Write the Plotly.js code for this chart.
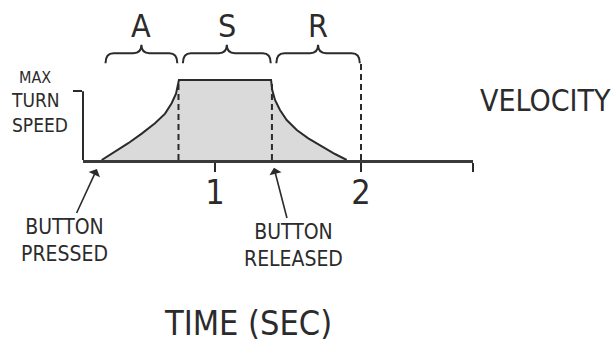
<!DOCTYPE html>
<html>
<head>
<meta charset="utf-8">
<script src="https://cdn.plot.ly/plotly-3.0.1.min.js"></script>
<style>
  html, body { margin: 0; padding: 0; background: white; }
  #chart { width: 615px; height: 345px; }
</style>
</head>
<body>
<div id="chart"></div>
<script>
// ASR envelope: velocity (fraction of max turn speed) vs time in seconds

const phaseTimes  = [0.22, 0.75, 1.39, 2.0];   // pressed, attack end, released, release window end
const phaseLabels = ["A", "S", "R"];

const attackT = [0.224, 0.315, 0.406, 0.498, 0.589, 0.658, 0.703, 0.733, 0.745, 0.753];
const attackV = [0, 0.10, 0.21, 0.33, 0.46, 0.58, 0.71, 0.83, 0.96, 1.0];

const releaseT = [1.384, 1.392, 1.411, 1.445, 1.491, 1.560, 1.639, 1.731, 1.822, 1.902];
const releaseV = [1.0, 0.875, 0.75, 0.625, 0.5, 0.375, 0.27, 0.17, 0.075, 0];

const maxTick   = 0.86;
const xTickVals = [1, 2, 2.765];
const xTickText = ["1", "2", ""];

const FONT = "'DejaVu Sans Condensed', 'Liberation Sans Narrow', sans-serif";
const INK = "#2b2b2b";

// plot area geometry (pixels on the 615x345 page)
const M = { l: 83, r: 142, t: 0, b: 185 };
const W = 615 - M.l - M.r, H = 345 - M.t - M.b;
const px = (x) => (x - M.l) / W;
const py = (y) => (345 - M.b - y) / H;

const envT = [...attackT, ...releaseT];
const envV = [...attackV, ...releaseV];

const dashed = (x, top) => ({
  x: [x, x], y: [0, top], type: "scatter", mode: "lines",
  line: { color: INK, width: 2, dash: "6px,4px" }, hoverinfo: "skip" });

const traces = [
  { x: envT, y: envV, type: "scatter", mode: "lines", fill: "tozeroy",
    fillcolor: "#dadada", line: { color: INK, width: 2 }, hoverinfo: "skip" },
  dashed(phaseTimes[1], 1),
  dashed(phaseTimes[2], 1),
  dashed(phaseTimes[3], 1.21),
];

// curly braces over each phase
function bracePath(x0, x1) {
  const yEnd = 1.21, yLine = 1.335, yTip = 1.44, r = 0.055;
  const xm = (x0 + x1) / 2;
  return `M ${x0},${yEnd} Q ${x0},${yLine} ${x0 + r},${yLine} L ${xm - r},${yLine} ` +
         `Q ${xm},${yLine} ${xm},${yTip} Q ${xm},${yLine} ${xm + r},${yLine} ` +
         `L ${x1 - r},${yLine} Q ${x1},${yLine} ${x1},${yEnd}`;
}

const shapes = [
  { type: "line", xref: "paper", yref: "y", x0: 0, x1: 0, y0: 0, y1: maxTick,
    line: { color: INK, width: 2 } },
];
const annotations = [];

phaseLabels.forEach((lab, i) => {
  const x0 = phaseTimes[i] + 0.03, x1 = phaseTimes[i + 1] - 0.008;
  shapes.push({ type: "path", xref: "x", yref: "y", path: bracePath(x0, x1),
                line: { color: INK, width: 2 } });
  annotations.push({ x: (x0 + x1) / 2, y: 1.67, xref: "x", yref: "y", text: lab,
                     xanchor: "center", yanchor: "middle",
                     showarrow: false, font: { family: FONT, size: 32, color: INK } });
});

const txt = (text, x, y, size, extra) => Object.assign({
  text, x: px(x), y: py(y), xref: "paper", yref: "paper", showarrow: false,
  xanchor: "center", yanchor: "middle",
  font: { family: FONT, size, color: INK } }, extra || {});

annotations.push(
  txt("MAX", 35, 77, 16),
  txt("TURN<br>SPEED", 9, 112, 19, { xanchor: "left", align: "left" }),
  txt("VELOCITY", 545, 100, 30),
  txt("TIME (SEC)", 248, 323, 34),
  { x: phaseTimes[0], y: 0, xref: "x", yref: "y", text: "BUTTON<br>PRESSED",
    showarrow: true, ax: -37, ay: 80, standoff: 10, arrowhead: 1, arrowsize: 1.3,
    arrowwidth: 1.6, arrowcolor: INK, font: { family: FONT, size: 21, color: INK } },
  { x: phaseTimes[2], y: 0, xref: "x", yref: "y", text: "BUTTON<br>RELEASED",
    showarrow: true, ax: 22, ay: 85, standoff: 8, arrowhead: 1, arrowsize: 1.3,
    arrowwidth: 1.6, arrowcolor: INK, font: { family: FONT, size: 21, color: INK } }
);

const layout = {
  width: 615, height: 345,
  margin: M,
  paper_bgcolor: "white", plot_bgcolor: "white",
  showlegend: false,
  font: { family: FONT, color: INK },
  xaxis: {
    range: [0.096, 2.767], showgrid: false, zeroline: false,
    showline: true, linecolor: "#3a3a3a", linewidth: 2.5,
    tickmode: "array", tickvals: xTickVals, ticktext: xTickText,
    ticks: "outside", ticklen: 9, tickwidth: 2, tickcolor: INK,
    ticklabelstandoff: -8,
    tickfont: { family: FONT, size: 34, color: INK },
  },
  yaxis: {
    range: [0, 2.0], showgrid: false, zeroline: false, showline: false,
    tickmode: "array", tickvals: [maxTick], ticks: "outside", ticklen: 9,
    tickwidth: 2, tickcolor: INK, showticklabels: false,
  },
  shapes, annotations,
};

Plotly.newPlot("chart", traces, layout, { displayModeBar: false, staticPlot: true });
</script>
</body>
</html>
